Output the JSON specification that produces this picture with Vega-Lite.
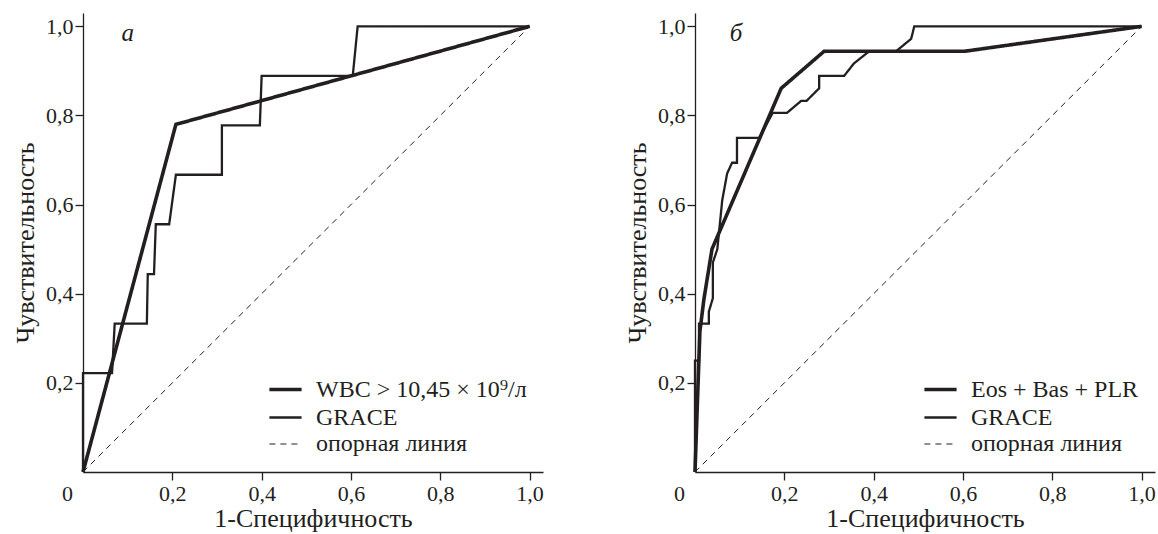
{
  "$schema": "https://vega.github.io/schema/vega-lite/v6.json",
  "padding": {"left": 12, "top": 13, "right": 0, "bottom": 2},
  "background": "white",
  "config": {
    "view": {"stroke": null},
    "font": "Liberation Serif",
    "axis": {
      "labelFont": "Liberation Serif",
      "titleFont": "Liberation Serif",
      "labelFontSize": 22,
      "titleFontSize": 26,
      "titleFontWeight": "normal",
      "labelColor": "#231f20",
      "titleColor": "#231f20",
      "domainColor": "#231f20",
      "tickColor": "#231f20",
      "domainWidth": 1.3,
      "tickWidth": 1.3,
      "tickSize": 8,
      "grid": false
    },
    "legend": {
      "labelFont": "Liberation Serif",
      "labelFontSize": 24,
      "labelColor": "#231f20",
      "symbolType": "M-1.4,0H1.4",
      "symbolSize": 529,
      "symbolStrokeColor": "#231f20",
      "rowPadding": 2.5,
      "labelOffset": 17,
      "labelLimit": 400
    }
  },
  "datasets": {
    "a": [
      {"series": "WBC > 10,45 × 10⁹/л", "i": 0, "x": 0, "y": 0},
      {"series": "WBC > 10,45 × 10⁹/л", "i": 1, "x": 0.208, "y": 0.78},
      {"series": "WBC > 10,45 × 10⁹/л", "i": 2, "x": 1, "y": 1},
      {"series": "GRACE", "i": 0, "x": 0, "y": 0},
      {"series": "GRACE", "i": 1, "x": 0, "y": 0.222},
      {"series": "GRACE", "i": 2, "x": 0.065, "y": 0.222},
      {"series": "GRACE", "i": 3, "x": 0.071, "y": 0.333},
      {"series": "GRACE", "i": 4, "x": 0.143, "y": 0.333},
      {"series": "GRACE", "i": 5, "x": 0.145, "y": 0.444},
      {"series": "GRACE", "i": 6, "x": 0.159, "y": 0.444},
      {"series": "GRACE", "i": 7, "x": 0.163, "y": 0.556},
      {"series": "GRACE", "i": 8, "x": 0.193, "y": 0.556},
      {"series": "GRACE", "i": 9, "x": 0.208, "y": 0.667},
      {"series": "GRACE", "i": 10, "x": 0.311, "y": 0.667},
      {"series": "GRACE", "i": 11, "x": 0.311, "y": 0.778},
      {"series": "GRACE", "i": 12, "x": 0.396, "y": 0.778},
      {"series": "GRACE", "i": 13, "x": 0.4, "y": 0.889},
      {"series": "GRACE", "i": 14, "x": 0.604, "y": 0.889},
      {"series": "GRACE", "i": 15, "x": 0.615, "y": 1},
      {"series": "GRACE", "i": 16, "x": 1, "y": 1},
      {"series": "опорная линия", "i": 0, "x": 0, "y": 0},
      {"series": "опорная линия", "i": 1, "x": 1, "y": 1}
    ],
    "b": [
      {"series": "Eos + Bas + PLR", "i": 0, "x": 0, "y": 0},
      {"series": "Eos + Bas + PLR", "i": 1, "x": 0.011, "y": 0.316},
      {"series": "Eos + Bas + PLR", "i": 2, "x": 0.02, "y": 0.388},
      {"series": "Eos + Bas + PLR", "i": 3, "x": 0.038, "y": 0.5},
      {"series": "Eos + Bas + PLR", "i": 4, "x": 0.193, "y": 0.861},
      {"series": "Eos + Bas + PLR", "i": 5, "x": 0.289, "y": 0.944},
      {"series": "Eos + Bas + PLR", "i": 6, "x": 0.603, "y": 0.944},
      {"series": "Eos + Bas + PLR", "i": 7, "x": 1, "y": 1},
      {"series": "GRACE", "i": 0, "x": 0, "y": 0},
      {"series": "GRACE", "i": 1, "x": 0, "y": 0.25},
      {"series": "GRACE", "i": 2, "x": 0.009, "y": 0.25},
      {"series": "GRACE", "i": 3, "x": 0.009, "y": 0.333},
      {"series": "GRACE", "i": 4, "x": 0.031, "y": 0.333},
      {"series": "GRACE", "i": 5, "x": 0.031, "y": 0.36},
      {"series": "GRACE", "i": 6, "x": 0.04, "y": 0.39},
      {"series": "GRACE", "i": 7, "x": 0.04, "y": 0.47},
      {"series": "GRACE", "i": 8, "x": 0.05, "y": 0.5},
      {"series": "GRACE", "i": 9, "x": 0.061, "y": 0.61},
      {"series": "GRACE", "i": 10, "x": 0.072, "y": 0.67},
      {"series": "GRACE", "i": 11, "x": 0.083, "y": 0.694},
      {"series": "GRACE", "i": 12, "x": 0.094, "y": 0.694},
      {"series": "GRACE", "i": 13, "x": 0.094, "y": 0.75},
      {"series": "GRACE", "i": 14, "x": 0.144, "y": 0.75},
      {"series": "GRACE", "i": 15, "x": 0.174, "y": 0.806},
      {"series": "GRACE", "i": 16, "x": 0.206, "y": 0.806},
      {"series": "GRACE", "i": 17, "x": 0.238, "y": 0.833},
      {"series": "GRACE", "i": 18, "x": 0.25, "y": 0.833},
      {"series": "GRACE", "i": 19, "x": 0.278, "y": 0.861},
      {"series": "GRACE", "i": 20, "x": 0.278, "y": 0.889},
      {"series": "GRACE", "i": 21, "x": 0.334, "y": 0.889},
      {"series": "GRACE", "i": 22, "x": 0.356, "y": 0.917},
      {"series": "GRACE", "i": 23, "x": 0.39, "y": 0.944},
      {"series": "GRACE", "i": 24, "x": 0.45, "y": 0.944},
      {"series": "GRACE", "i": 25, "x": 0.484, "y": 0.972},
      {"series": "GRACE", "i": 26, "x": 0.491, "y": 1},
      {"series": "GRACE", "i": 27, "x": 1, "y": 1},
      {"series": "опорная линия", "i": 0, "x": 0, "y": 0},
      {"series": "опорная линия", "i": 1, "x": 1, "y": 1}
    ],
    "labA": [{"t": "а", "x": 0.1, "y": 0.985}],
    "labB": [{"t": "б", "x": 0.092, "y": 0.985}]
  },
  "spacing": 80,
  "resolve": {
    "scale": {"strokeWidth": "independent", "strokeDash": "independent"},
    "legend": {"strokeWidth": "independent", "strokeDash": "independent"}
  },
  "hconcat": [
    {
      "width": 460,
      "height": 459,
      "layer": [
        {
          "data": {"name": "a"},
          "mark": {"type": "line", "color": "#231f20", "strokeCap": "butt", "strokeJoin": "miter"},
          "encoding": {
            "x": {
              "field": "x", "type": "quantitative",
              "scale": {"domain": [0, 1.03], "nice": false, "zero": true},
              "axis": {
                "title": "1-Специфичность",
                "titleFontSize": 26,
                "labelFontSize": 22,
                "values": [0, 0.2, 0.4, 0.6, 0.8, 1.0],
                "labelExpr": "datum.value == 0 ? '0' : replace(format(datum.value, '.1f'), '.', ',')",
                "labelOffset": {"condition": {"test": "datum.value == 0", "value": -16}, "value": 0},
                "tickOpacity": {"condition": {"test": "datum.value == 0", "value": 0}, "value": 1},
                "labelPadding": 3,
                "titlePadding": 1,
                "labelFlush": false
              }
            },
            "y": {
              "field": "y", "type": "quantitative",
              "scale": {"domain": [0, 1.03], "nice": false},
              "axis": {
                "title": "Чувствительность",
                "titleFontSize": 26,
                "labelFontSize": 22,
                "values": [0.2, 0.4, 0.6, 0.8, 1.0],
                "labelExpr": "replace(format(datum.value, '.1f'), '.', ',')",
                "labelPadding": 2,
                "titlePadding": 7,
                "labelFlush": false
              }
            },
            "order": {"field": "i", "type": "quantitative"},
            "strokeWidth": {
              "field": "series", "type": "nominal",
              "scale": {"domain": ["WBC > 10,45 × 10⁹/л", "GRACE", "опорная линия"], "range": [3.6, 1.0, 1.1]},
              "legend": {"title": null, "orient": "bottom-right", "offset": 16}
            },
            "strokeDash": {
              "field": "series", "type": "nominal",
              "scale": {"domain": ["WBC > 10,45 × 10⁹/л", "GRACE", "опорная линия"], "range": [[1, 0], [1, 0], [6, 5]]},
              "legend": {"title": null, "orient": "bottom-right", "offset": 16}
            }
          }
        },
        {
          "data": {"name": "labA"},
          "mark": {"type": "text", "font": "Liberation Serif", "fontSize": 25, "fontStyle": "italic", "color": "#231f20"},
          "encoding": {
            "x": {"field": "x", "type": "quantitative"},
            "y": {"field": "y", "type": "quantitative"},
            "text": {"field": "t"}
          }
        }
      ]
    },
    {
      "width": 460,
      "height": 459,
      "layer": [
        {
          "data": {"name": "b"},
          "mark": {"type": "line", "color": "#231f20", "strokeCap": "butt", "strokeJoin": "miter"},
          "encoding": {
            "x": {
              "field": "x", "type": "quantitative",
              "scale": {"domain": [0, 1.03], "nice": false, "zero": true},
              "axis": {
                "title": "1-Специфичность",
                "titleFontSize": 26,
                "labelFontSize": 22,
                "values": [0, 0.2, 0.4, 0.6, 0.8, 1.0],
                "labelExpr": "datum.value == 0 ? '0' : replace(format(datum.value, '.1f'), '.', ',')",
                "labelOffset": {"condition": {"test": "datum.value == 0", "value": -16}, "value": 0},
                "tickOpacity": {"condition": {"test": "datum.value == 0", "value": 0}, "value": 1},
                "labelPadding": 3,
                "titlePadding": 1,
                "labelFlush": false
              }
            },
            "y": {
              "field": "y", "type": "quantitative",
              "scale": {"domain": [0, 1.03], "nice": false},
              "axis": {
                "title": "Чувствительность",
                "titleFontSize": 26,
                "labelFontSize": 22,
                "values": [0.2, 0.4, 0.6, 0.8, 1.0],
                "labelExpr": "replace(format(datum.value, '.1f'), '.', ',')",
                "labelPadding": 2,
                "titlePadding": 7,
                "labelFlush": false
              }
            },
            "order": {"field": "i", "type": "quantitative"},
            "strokeWidth": {
              "field": "series", "type": "nominal",
              "scale": {"domain": ["Eos + Bas + PLR", "GRACE", "опорная линия"], "range": [3.6, 1.0, 1.1]},
              "legend": {"title": null, "orient": "bottom-right", "offset": 16}
            },
            "strokeDash": {
              "field": "series", "type": "nominal",
              "scale": {"domain": ["Eos + Bas + PLR", "GRACE", "опорная линия"], "range": [[1, 0], [1, 0], [6, 5]]},
              "legend": {"title": null, "orient": "bottom-right", "offset": 16}
            }
          }
        },
        {
          "data": {"name": "labB"},
          "mark": {"type": "text", "font": "Liberation Serif", "fontSize": 25, "fontStyle": "italic", "color": "#231f20"},
          "encoding": {
            "x": {"field": "x", "type": "quantitative"},
            "y": {"field": "y", "type": "quantitative"},
            "text": {"field": "t"}
          }
        }
      ]
    }
  ]
}
